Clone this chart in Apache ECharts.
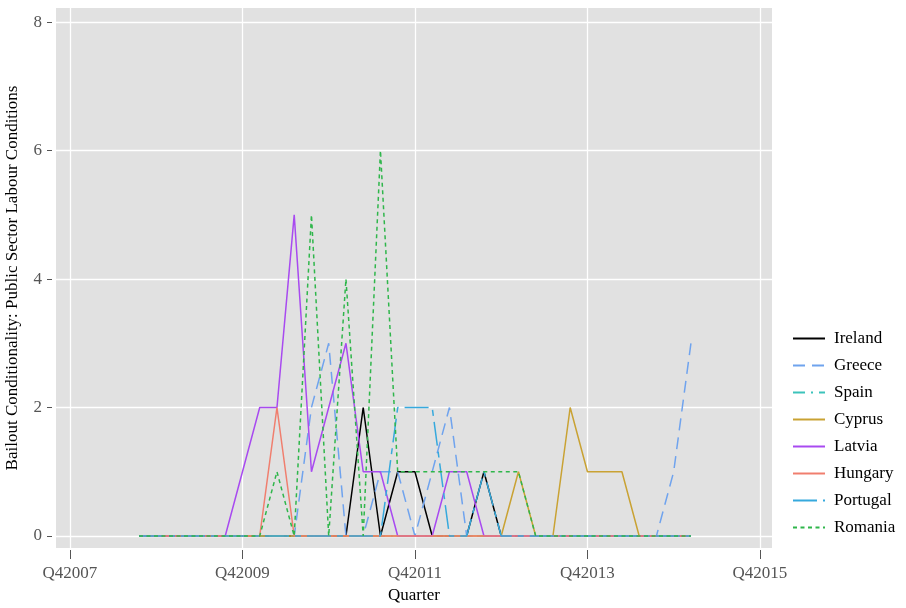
<!DOCTYPE html>
<html><head><meta charset="utf-8">
<script src="https://cdn.jsdelivr.net/npm/echarts@6/dist/echarts.min.js"></script>
<style>html,body{margin:0;padding:0;background:#fff}#c{width:906px;height:608px}</style>
</head><body><div id="c"></div>
<script>
// x positions (chart's quarter index), one per observation
const quarters = [4,5,6,7,8,9,10,11,12,13,14,15,16,17,18,19,20,21,22,23,24,25,26,27,28,29,30,31,32,33,34,35,36];
const xTickValues = [0,10,20,30,40];
const xTickLabels = ['Q42007','Q42009','Q42011','Q42013','Q42015'];
const yTickValues = [0,2,4,6,8];

const ireland  = [0,0,0,0,0,0,0,0,0,0,0,0,0,2,0,1,1,0,0,0,1,0,0,0,0,0,0,0,0,0,0,0,0];
const greece   = [0,0,0,0,0,0,0,0,0,0,2,3,0,0,1,1,0,1,2,0,0,0,0,0,0,0,0,0,0,0,0,1,3];
const spain    = [0,0,0,0,0,0,0,0,0,0,0,0,0,0,0,0,0,0,0,0,0,0,0,0,0,0,0,0,0,0,0,0,0];
const cyprus   = [0,0,0,0,0,0,0,0,0,0,0,0,0,0,0,0,0,0,0,0,0,0,1,0,0,2,1,1,1,0,0,0,0];
const latvia   = [0,0,0,0,0,0,1,2,2,5,1,2,3,1,1,0,0,0,1,1,0,0,0,0,0,0,0,0,0,0,0,0,0];
const hungary  = [0,0,0,0,0,0,0,0,2,0,0,0,0,0,0,0,0,0,0,0,0,0,0,0,0,0,0,0,0,0,0,0,0];
const portugal = [0,0,0,0,0,0,0,0,0,0,0,0,0,0,0,2,2,2,0,0,1,0,0,0,0,0,0,0,0,0,0,0,0];
const romania  = [0,0,0,0,0,0,0,0,1,0,5,0,4,0,6,1,1,1,1,1,1,1,1,0,0,0,0,0,0,0,0,0,0];

const countries = ['Ireland','Greece','Spain','Cyprus','Latvia','Hungary','Portugal','Romania'];
const values = [ireland, greece, spain, cyprus, latvia, hungary, portugal, romania];
const colors = ['#000000','#6fa3ee','#3cc3bb','#c9a233','#a84af0','#f07e6e','#36a9dd','#2fb64b'];
const dashes = ['solid',[12,7],[12,6,2,6],'solid','solid','solid',[24,6,6,6],[4,3.5]];

const FONT = '"Liberation Serif","DejaVu Serif",serif';

const series = countries.map((name, k) => ({
  name: name,
  type: 'line',
  symbol: 'none',
  showSymbol: false,
  animation: false,
  data: quarters.map((q, j) => [q, values[k][j]]),
  lineStyle: { color: colors[k], width: 1.5, type: dashes[k] },
  itemStyle: { color: colors[k] }
}));

const chart = echarts.init(document.getElementById('c'));
chart.setOption({
  animation: false,
  backgroundColor: '#ffffff',
  grid: {
    left: 56, right: 134, top: 8, bottom: 60,
    outerBoundsMode: 'none',
    containLabel: false,
    show: true, backgroundColor: '#e1e1e1', borderWidth: 0
  },
  xAxis: {
    type: 'value',
    min: -0.81, max: 40.7,
    offset: 2,
    name: 'Quarter',
    nameLocation: 'middle',
    nameGap: 36,
    nameTextStyle: { fontFamily: FONT, fontSize: 17, color: '#000' },
    axisLine: { show: false, onZero: false },
    axisTick: { show: true, inside: false, length: 9, lineStyle: { color: '#555', width: 1 }, customValues: xTickValues },
    axisLabel: {
      customValues: xTickValues,
      margin: 15,
      fontFamily: FONT, fontSize: 17, color: '#555',
      formatter: v => { const i = xTickValues.indexOf(v); return i >= 0 ? xTickLabels[i] : ''; }
    },
    splitLine: { show: true, lineStyle: { color: '#ffffff', width: 1.3 } }
  },
  yAxis: {
    type: 'value',
    min: -0.187, max: 8.22,
    offset: 4,
    name: 'Bailout Conditionality: Public Sector Labour Conditions',
    nameLocation: 'middle',
    nameGap: 31,
    nameRotate: 90,
    nameTextStyle: { fontFamily: FONT, fontSize: 17, color: '#000' },
    axisLine: { show: false, onZero: false },
    axisTick: { show: true, inside: false, length: 5, lineStyle: { color: '#555', width: 1 }, customValues: yTickValues },
    axisLabel: {
      customValues: yTickValues,
      margin: 10,
      fontFamily: FONT, fontSize: 17, color: '#555'
    },
    splitLine: { show: true, lineStyle: { color: '#ffffff', width: 1.3 } }
  },
  legend: {
    orient: 'vertical',
    left: 787, top: 325,
    itemWidth: 32, itemHeight: 14, itemGap: 10,
    itemStyle: { opacity: 0 },
    textStyle: { fontFamily: FONT, fontSize: 17, color: '#000', padding: [0,0,0,4] },
    data: countries
  },
  series: series
});
</script>
</body></html>
